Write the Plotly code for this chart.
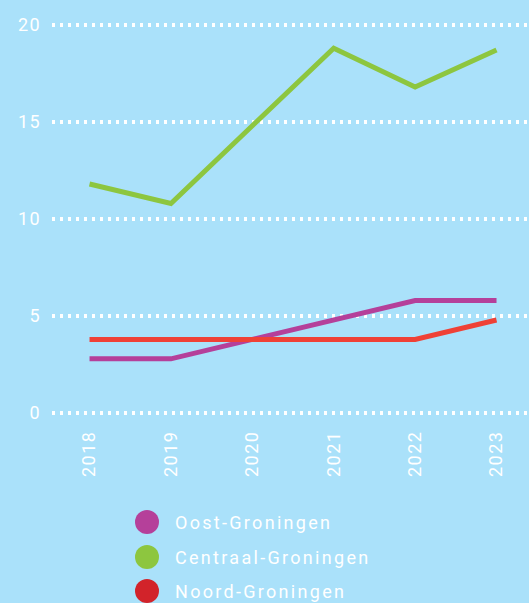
import plotly.graph_objects as go

years = [2018, 2019, 2020, 2021, 2022, 2023]
oost = [2.8, 2.8, 3.8, 4.8, 5.8, 5.8]
centraal = [11.8, 10.8, 14.8, 18.8, 16.8, 18.7]
noord = [3.8, 3.8, 3.8, 3.8, 3.8, 4.8]

names = ["Oost-Groningen", "Centraal-Groningen", "Noord-Groningen"]
series = [oost, centraal, noord]
line_colors = ["#b5409a", "#8dc63f", "#ef4136"]
legend_colors = ["#b5409a", "#8dc63f", "#d2232a"]

y_ticks = [0, 5, 10, 15, 20]

BG = "#aae1fa"
W, H = 529, 603
L, R, T, B = 52, 0, 19, 184
FONT = "Roboto"


def sp(t, ls=1.6):
    return f'<span style="letter-spacing:{ls}px">{t}</span>'


fig = go.Figure()
for name, vals, col in zip(names, series, line_colors):
    fig.add_trace(go.Scatter(x=years, y=vals, mode="lines", name=name,
                             line=dict(color=col, width=5),
                             showlegend=False, hoverinfo="skip"))

# legend drawn manually (big circle markers)
plot_h = H - T - B
def py(Y):
    return (H - B - Y) / plot_h
def px(X):
    return (X - L) / (W - L - R)

rows = [522, 557, 591]
for name, col, Y in zip(names, legend_colors, rows):
    fig.add_shape(type="circle", xref="paper", yref="paper",
                  xsizemode="pixel", ysizemode="pixel",
                  xanchor=px(147), yanchor=py(Y),
                  x0=-12, x1=12, y0=-12, y1=12,
                  fillcolor=col, line=dict(width=0))
    fig.add_annotation(xref="paper", yref="paper", x=px(173), y=py(Y),
                       xanchor="left", yanchor="middle", showarrow=False,
                       text=sp(name, 2.3),
                       font=dict(family=FONT, size=18, color="white"))

fig.update_layout(
    width=W, height=H,
    margin=dict(l=L, r=R, t=T, b=B),
    paper_bgcolor=BG, plot_bgcolor=BG,
    font=dict(family=FONT, color="white", size=18),
    xaxis=dict(range=[2017.539, 2023.399], tickmode="array",
               tickvals=years, ticktext=[sp(str(y), 1.5) for y in years],
               tickangle=-90, showgrid=False, zeroline=False,
               showline=False, ticks="", ticklabelstandoff=7,
               tickfont=dict(family=FONT, size=18, color="white"),
               fixedrange=True),
    yaxis=dict(range=[-0.3, 20.3], tickmode="array", tickvals=y_ticks,
               ticktext=[sp(str(v), 1.4) for v in y_ticks],
               showgrid=True, gridcolor="white", gridwidth=3.5,
               griddash="3px,5px", zeroline=False, showline=False,
               ticks="", ticklabelstandoff=10,
               tickfont=dict(family=FONT, size=18, color="white"),
               fixedrange=True),
)

fig.write_html("out.html")
